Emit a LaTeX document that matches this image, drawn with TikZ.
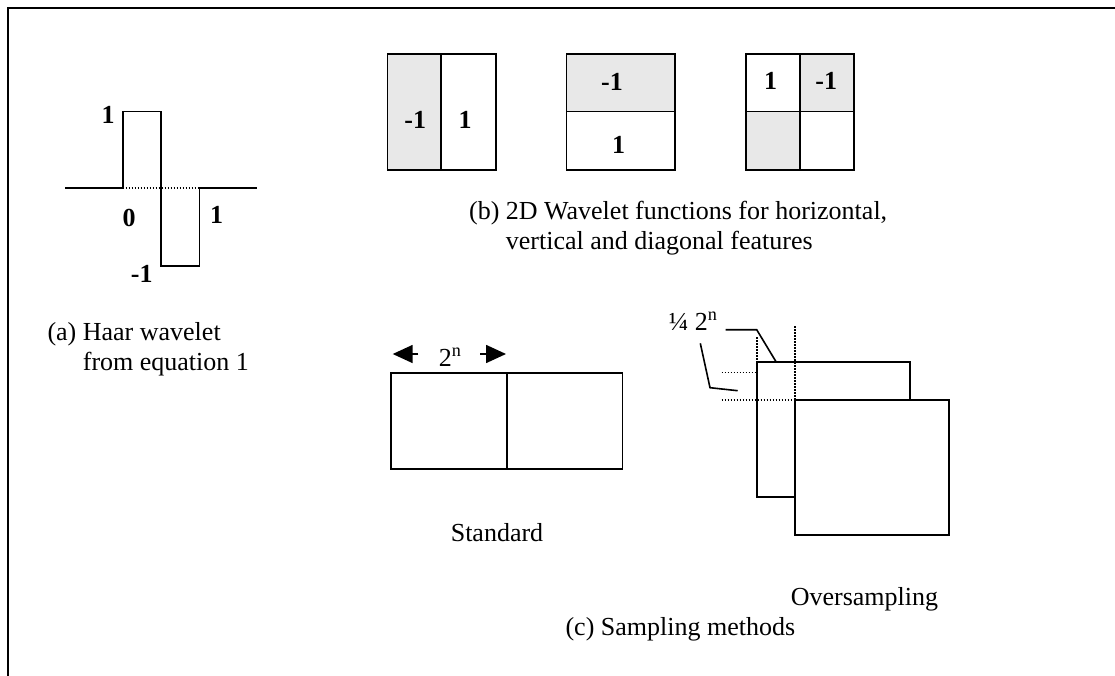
\documentclass[tikz,border=0pt]{standalone}
\usepackage{fontspec}
\setmainfont{Liberation Serif}
\usetikzlibrary{arrows.meta}
\definecolor{cellgray}{RGB}{232,232,232}
\tikzset{
  edge/.style={line width=1.6pt},
  frameline/.style={line width=2pt},
  dots/.style={line width=1.6pt, dash pattern=on 1.5pt off 1.5pt},
  val/.style={inner sep=0pt, font=\fontsize{26}{30}\selectfont\bfseries},
  txt/.style={inner sep=0pt, anchor=base west, font=\fontsize{26}{30}\selectfont},
  dimarrow/.style={line width=1.6pt, -{Triangle[length=20pt,width=18pt]}},
  cellfill/.style={fill=cellgray},
}
\begin{document}
\begin{tikzpicture}[x=1pt, y=-1pt, edge]
\useasboundingbox (0,0) rectangle (1115,676);

% outer frame (open on the right and at the bottom)
\draw[frameline] (1115,8) -- (7.5,8) -- (7.5,676);

% ---------- (a) Haar wavelet ----------
\coordinate (axL) at (65,188.3);
\coordinate (p0)  at (122.7,188.3);
\coordinate (ptopL) at (122.7,111.7);
\coordinate (ptopR) at (161,111.7);
\coordinate (pbotL) at (161,265.7);
\coordinate (pbotR) at (199.3,265.7);
\coordinate (p1)  at (199.3,188.3);
\coordinate (axR) at (257.3,188.3);
\draw (axL) -- (p0) -- (ptopL) -- (ptopR) -- (pbotL) -- (pbotR) -- (p1) -- (axR);
\draw[dots] (p0) -- (p1);
\node[val] (hOne)  at (108,115)   {1};
\node[val] (hZero) at (129,217.5) {0};
\node[val] (hEnd)  at (216.7,215) {1};
\node[val] (hNeg)  at (141.7,274) {-1};
\node[txt] (capA1) at (46.7,340) {(a) Haar wavelet};
\node[txt] (capA2) at (46.7,370) {\phantom{(a)}\ from equation 1};

% ---------- (b) 2D wavelet functions ----------
% horizontal
\fill[cellfill] (387.3,54) rectangle (441,170);
\draw (387.3,54) rectangle (495.7,170);
\draw (441,54) -- (441,170);
\node[val] (b1n) at (415.2,120.3) {-1};
\node[val] (b1p) at (465,120.3) {1};
% vertical
\fill[cellfill] (566.3,54) rectangle (674.7,111.7);
\draw (566.3,54) rectangle (674.7,170);
\draw (566.3,111.7) -- (674.7,111.7);
\node[val] (b2n) at (612,81.7) {-1};
\node[val] (b2p) at (618.7,145) {1};
% diagonal
\fill[cellfill] (800,54) rectangle (853.7,111.7);
\fill[cellfill] (745.7,111.7) rectangle (800,170);
\draw (745.7,54) rectangle (853.7,170);
\draw (800,54) -- (800,170);
\draw (745.7,111.7) -- (853.7,111.7);
\node[val] (b3p) at (770.7,81.3) {1};
\node[val] (b3n) at (826.3,81.3) {-1};
\node[txt] (capB1) at (468.3,220) {(b) 2D Wavelet functions for horizontal,};
\node[txt] (capB2) at (468.3,250) {\phantom{(b)}\ vertical and diagonal features};

% ---------- (c) sampling methods ----------
% standard tiling
\draw (391,372.7) rectangle (622.3,469);
\draw (507,372.7) -- (507,469);
\coordinate (aLtail) at (418.3,354);
\coordinate (aLtip)  at (392.7,354);
\coordinate (aRtail) at (480,354);
\coordinate (aRtip)  at (506,354);
\draw[dimarrow] (aLtail) -- (aLtip);
\draw[dimarrow] (aRtail) -- (aRtip);
\node[txt] (sizeStd) at (438,366) {2\textsuperscript{n}};
\node[txt] (stdLbl) at (450,541.7) {Standard};

% oversampled tiling
\draw (756.7,361.7) rectangle (910,496.7);
\draw[fill=white] (795,400) rectangle (948.7,535);
\draw[dots] (795,326) -- (795,400);
\draw[dots] (756.7,337.3) -- (756.7,361.7);
\draw[dots] (721.7,372.3) -- (756.7,372.3);
\draw[dots] (721.7,400) -- (795,400);
\node[txt] (sizeOvr) at (668,330) {¼ 2\textsuperscript{n}};
\coordinate (l1a) at (725.7,329.7);
\coordinate (l1b) at (756.7,329.7);
\coordinate (l1c) at (776,361.7);
\draw (l1a) -- (l1b) -- (l1c);
\coordinate (l2a) at (700.3,343.3);
\coordinate (l2b) at (710,387.7);
\coordinate (l2c) at (737.7,390.7);
\draw (l2a) -- (l2b) -- (l2c);
\node[txt] (ovrLbl) at (790,605) {Oversampling};
\node[txt, anchor=base east] (capC) at (796,635) {(c) Sampling methods};
\end{tikzpicture}
\end{document}
